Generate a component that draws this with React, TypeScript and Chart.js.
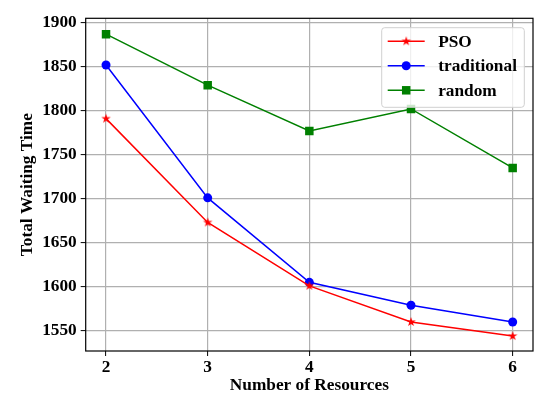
import React, { useEffect, useRef } from "react";
import { Chart, registerables } from "chart.js";

Chart.register(...registerables);

const resources = [2, 3, 4, 5, 6];
const psoValues = [1791, 1673, 1601, 1560, 1544];
const traditionalValues = [1852, 1701, 1605, 1579, 1560];
const randomValues = [1887, 1829, 1777, 1802, 1735];
const yTickValues = [1550, 1600, 1650, 1700, 1750, 1800, 1850, 1900];
const seriesNames = ["PSO", "traditional", "random"];

const FONT = "'Liberation Serif', 'Times New Roman', serif";
const FS = 17.3;

function makeStar(color: string, outer: number): HTMLCanvasElement {
  const c = document.createElement("canvas");
  const s = Math.ceil(outer * 2 + 2);
  c.width = s;
  c.height = s;
  const ctx = c.getContext("2d")!;
  const cx = s / 2;
  const cy = s / 2;
  const inner = outer * 0.381966;
  ctx.beginPath();
  for (let i = 0; i < 10; i++) {
    const r = i % 2 === 0 ? outer : inner;
    const ang = -Math.PI / 2 + (i * Math.PI) / 5;
    const x = cx + r * Math.cos(ang);
    const y = cy + r * Math.sin(ang);
    if (i === 0) ctx.moveTo(x, y);
    else ctx.lineTo(x, y);
  }
  ctx.closePath();
  ctx.fillStyle = color;
  ctx.fill();
  return c;
}

export default function App() {
  const ref = useRef<HTMLCanvasElement>(null);
  useEffect(() => {
    if (!ref.current) return;
    const star = makeStar("#ff0000", 5);
    const colors = ["#ff0000", "#0000ff", "#008000"];
    const series = [psoValues, traditionalValues, randomValues];
    const styles: any[] = [star, "circle", "rect"];
    const radii = [5, 4.5, 6];

    const framePlugin = {
      id: "frame",
      afterDatasetsDraw(chart: any) {
        const { ctx, chartArea: a } = chart;
        ctx.save();
        ctx.strokeStyle = "#000";
        ctx.lineWidth = 1.2;
        ctx.strokeRect(a.left, a.top, a.right - a.left, a.bottom - a.top);
        ctx.restore();
      },
      afterDraw(chart: any) {
        const { ctx, chartArea: a } = chart;
        const left = a.right - 151.3;
        const right = a.right - 8.7;
        const top = a.top + 9.4;
        const bottom = a.top + 89;
        ctx.save();
        ctx.beginPath();
        const r = 3;
        ctx.moveTo(left + r, top);
        ctx.lineTo(right - r, top);
        ctx.quadraticCurveTo(right, top, right, top + r);
        ctx.lineTo(right, bottom - r);
        ctx.quadraticCurveTo(right, bottom, right - r, bottom);
        ctx.lineTo(left + r, bottom);
        ctx.quadraticCurveTo(left, bottom, left, bottom - r);
        ctx.lineTo(left, top + r);
        ctx.quadraticCurveTo(left, top, left + r, top);
        ctx.closePath();
        ctx.fillStyle = "rgba(255,255,255,0.8)";
        ctx.fill();
        ctx.strokeStyle = "#d0d0d0";
        ctx.lineWidth = 1;
        ctx.stroke();
        chart.data.datasets.forEach((ds: any, i: number) => {
          const y = a.top + 23 + i * 24.5;
          const x0 = left + 6;
          const x1 = left + 43;
          const xm = (x0 + x1) / 2;
          ctx.beginPath();
          ctx.strokeStyle = ds.borderColor;
          ctx.lineWidth = ds.borderWidth;
          ctx.moveTo(x0, y);
          ctx.lineTo(x1, y);
          ctx.stroke();
          ctx.fillStyle = ds.backgroundColor;
          if (i === 0) {
            ctx.drawImage(star, xm - star.width / 2, y - star.height / 2);
          } else if (i === 1) {
            ctx.beginPath();
            ctx.arc(xm, y, ds.pointRadius, 0, Math.PI * 2);
            ctx.fill();
          } else {
            const h = ds.pointRadius * Math.SQRT1_2;
            ctx.fillRect(xm - h, y - h, 2 * h, 2 * h);
          }
          ctx.fillStyle = "#000";
          ctx.font = `bold ${FS}px ${FONT}`;
          ctx.textBaseline = "middle";
          ctx.textAlign = "left";
          ctx.fillText(ds.label, left + 56.5, y + 1);
        });
        ctx.restore();
      },
    };

    const chart = new Chart(ref.current, {
      type: "line",
      data: {
        datasets: series.map((vals, i) => ({
          label: seriesNames[i],
          data: resources.map((x, j) => ({ x, y: vals[j] })),
          borderColor: colors[i],
          backgroundColor: colors[i],
          borderWidth: 1.5,
          pointStyle: styles[i],
          pointRadius: radii[i],
          pointBorderWidth: 0,
          pointBackgroundColor: colors[i],
          pointBorderColor: colors[i],
          tension: 0,
          fill: false,
        })),
      },
      plugins: [framePlugin],
      options: {
        animation: false,
        responsive: false,
        devicePixelRatio: 1,
        layout: { padding: { left: 0, right: 17, top: 18.3, bottom: 0 } },
        plugins: { legend: { display: false }, tooltip: { enabled: false } },
        scales: {
          x: {
            type: "linear",
            min: 1.8,
            max: 6.2,
            afterBuildTicks: (s: any) => {
              s.ticks = resources.map((v) => ({ value: v }));
            },
            afterFit: (s: any) => {
              s.height = 66;
            },
            border: { display: false },
            grid: {
              color: "#b0b0b0",
              lineWidth: 1.2,
              tickColor: "#000",
              tickLength: 5,
              tickWidth: 1,
            },
            ticks: {
              color: "#000",
              font: { family: FONT, size: FS, weight: "bold" },
              padding: 1,
              maxRotation: 0,
              callback: (v: any) => String(v),
            },
            title: {
              display: true,
              text: "Number of Resources",
              color: "#000",
              font: { family: FONT, size: FS, weight: "bold" },
              padding: { top: 0, bottom: 20.8 },
            },
          },
          y: {
            type: "linear",
            min: 1527,
            max: 1905,
            afterBuildTicks: (s: any) => {
              s.ticks = yTickValues.map((v) => ({ value: v }));
            },
            afterFit: (s: any) => {
              s.width = 85.7;
            },
            border: { display: false },
            grid: {
              color: "#b0b0b0",
              lineWidth: 1.2,
              tickColor: "#000",
              tickLength: 5,
              tickWidth: 1,
            },
            ticks: {
              color: "#000",
              font: { family: FONT, size: FS, weight: "bold" },
              padding: 4,
              callback: (v: any) => String(v),
            },
            title: {
              display: true,
              text: "Total Waiting Time",
              color: "#000",
              font: { family: FONT, size: FS, weight: "bold" },
              padding: { top: 16.8, bottom: 0 },
            },
          },
        },
      },
    } as any);
    return () => chart.destroy();
  }, []);

  return (
    <div style={{ position: "fixed", left: 0, top: 0, width: 550, height: 417, background: "#fff" }}>
      <canvas ref={ref} width={550} height={417} style={{ width: 550, height: 417 }} />
    </div>
  );
}
